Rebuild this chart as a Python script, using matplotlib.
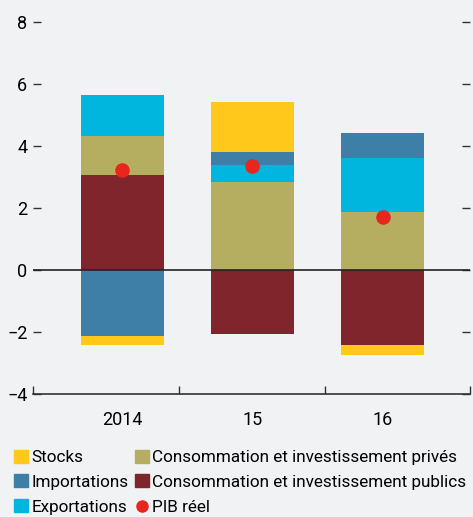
import numpy as np
import matplotlib
matplotlib.use("Agg")
import matplotlib.pyplot as plt
from matplotlib.patches import Patch
from matplotlib.lines import Line2D

plt.rcParams["font.family"] = ["Roboto", "DejaVu Sans"]

years = ["2014", "15", "16"]
stocks = [-0.29, 1.61, -0.32]
imports = [-2.12, 0.41, 0.80]
exports = [1.32, 0.55, 1.72]
private = [1.26, 2.83, 1.88]
public = [3.05, -2.06, -2.41]
pib = [3.24, 3.34, 1.70]

BG = "#f1f2f4"
C_STK, C_IMP, C_EXP = "#ffc81a", "#3d7fa6", "#00b6de"
C_PRV, C_PUB, C_PIB = "#b5ae60", "#7f252b", "#e8261e"

# stacking order for each bar (bottom to top, positive and negative separately)
order = {
    "2014": [("public", public), ("private", private), ("exports", exports), ("imports", imports), ("stocks", stocks)],
    "15": [("private", private), ("exports", exports), ("imports", imports), ("stocks", stocks), ("public", public)],
    "16": [("private", private), ("exports", exports), ("imports", imports), ("public", public), ("stocks", stocks)],
}
colors = dict(stocks=C_STK, imports=C_IMP, exports=C_EXP, private=C_PRV, public=C_PUB)

fig = plt.figure(figsize=(4.73, 5.17), dpi=100, facecolor=BG)
ax = fig.add_axes([0.0698, 0.2373, 0.9239, 0.7207], facecolor=BG)

x = np.arange(len(years))
w = 0.64
for i, yr in enumerate(years):
    pos, neg = 0.0, 0.0
    for name, vals in order[yr]:
        v = vals[i]
        if v >= 0:
            ax.bar(x[i], v, w, bottom=pos, color=colors[name], lw=0, zorder=2)
            pos += v
        else:
            ax.bar(x[i], v, w, bottom=neg, color=colors[name], lw=0, zorder=2)
            neg += v
ax.scatter(x, pib, s=110, color=C_PIB, zorder=4, lw=0)
ax.axhline(0, color="#222222", lw=1.2, zorder=3)

ax.set_ylim(-4, 8)
ax.set_xlim(-0.688, 2.673)
ax.set_yticks([-4, -2, 0, 2, 4, 6, 8])
ax.set_yticklabels(["\u22124", "\u22122", "0", "2", "4", "6", "8"])
ax.set_xticks(x)
ax.set_xticklabels(years)
ax.set_xticks([-0.688, 0.435, 1.558, 2.673], minor=True)
ax.tick_params(axis="x", which="major", length=0, pad=12, labelsize=13)
ax.tick_params(axis="x", which="minor", direction="in", length=6, width=1, color="#333333")
ax.tick_params(axis="y", direction="in", length=6, width=1, color="#333333",
               left=True, right=True, labelsize=13, pad=4)
for s in ["top", "left", "right"]:
    ax.spines[s].set_visible(False)
ax.spines["bottom"].set_color("#333333")
ax.spines["bottom"].set_linewidth(1.2)

handles = [
    Patch(color=C_STK, label="Stocks"),
    Patch(color=C_IMP, label="Importations"),
    Patch(color=C_EXP, label="Exportations"),
    Patch(color=C_PRV, label="Consommation et investissement privés"),
    Patch(color=C_PUB, label="Consommation et investissement publics"),
    Line2D([], [], marker="o", ls="", color=C_PIB, ms=8, label="PIB réel"),
]
fig.legend(handles=handles, ncol=2, loc="upper left", bbox_to_anchor=(0.012, 0.147),
           frameon=False, fontsize=12.3, handlelength=0.8, handleheight=0.8,
           handletextpad=0.2, columnspacing=0.4, labelspacing=0.55, borderpad=0)

fig.savefig("out.png", dpi=100, facecolor=BG)
